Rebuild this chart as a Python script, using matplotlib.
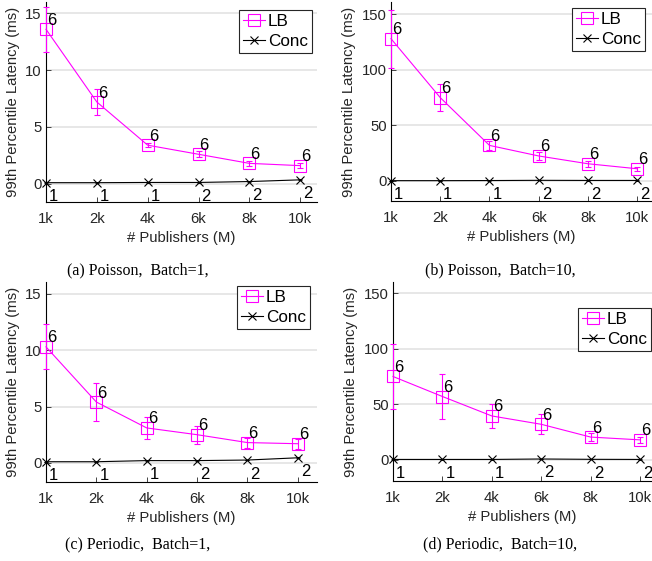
import matplotlib
matplotlib.use("Agg")
import matplotlib.pyplot as plt
import numpy as np

plt.rcParams['font.family'] = ['Liberation Sans', 'DejaVu Sans']

categories = ["1k", "2k", "4k", "6k", "8k", "10k"]

# (a) Poisson, Batch=1
a_lb = [13.6, 7.2, 3.4, 2.6, 1.8, 1.6]
a_lb_err = [2.0, 1.1, 0.2, 0.25, 0.2, 0.2]
a_conc = [0.1, 0.1, 0.12, 0.12, 0.2, 0.35]
a_conc_err = [0.02, 0.02, 0.02, 0.02, 0.03, 0.05]

# (b) Poisson, Batch=10
b_lb = [128, 75, 32, 22.5, 15.5, 11]
b_lb_err = [26, 12, 4, 3.5, 2.5, 2]
b_conc = [0.3, 0.3, 0.4, 0.6, 0.5, 0.5]
b_conc_err = [0.1, 0.1, 0.1, 0.1, 0.1, 0.1]

# (c) Periodic, Batch=1
c_lb = [10.3, 5.4, 3.1, 2.5, 1.8, 1.7]
c_lb_err = [2.0, 1.7, 1.0, 0.8, 0.45, 0.45]
c_conc = [0.1, 0.1, 0.2, 0.2, 0.25, 0.45]
c_conc_err = [0.02, 0.02, 0.03, 0.03, 0.03, 0.05]

# (d) Periodic, Batch=10
d_lb = [75, 57, 39.5, 32, 20.5, 18]
d_lb_err = [29, 20, 11, 9, 3.5, 3]
d_conc = [0.4, 0.4, 0.4, 0.8, 0.5, 0.4]
d_conc_err = [0.1, 0.1, 0.1, 0.1, 0.1, 0.1]

lb_counts = ["6", "6", "6", "6", "6", "6"]
conc_counts = ["1", "1", "1", "2", "2", "2"]

captions = ["(a) Poisson,  Batch=1,", "(b) Poisson,  Batch=10,",
            "(c) Periodic,  Batch=1,", "(d) Periodic,  Batch=10,"]

W, H = 652, 561
fig = plt.figure(figsize=(W / 100, H / 100), dpi=100)

def frac_box(l, r, t, b):
    return [l / W, 1 - b / H, (r - l) / W, (b - t) / H]

panels = [
    dict(box=(46, 317, 2, 202), ylim=(-1.6, 16), xmax=6.33, yt=[0, 5, 10, 15],
         lb=a_lb, lbe=a_lb_err, cc=a_conc, cce=a_conc_err, leg=(312, 10), cap=(138, 270)),
    dict(box=(391, 652, 2, 201), ylim=(-18, 161), xmax=6.30, yt=[0, 50, 100, 150],
         lb=b_lb, lbe=b_lb_err, cc=b_conc, cce=b_conc_err, leg=(645, 8), cap=(500, 270)),
    dict(box=(46, 317, 282, 482), ylim=(-1.7, 16.06), xmax=6.38, yt=[0, 5, 10, 15],
         lb=c_lb, lbe=c_lb_err, cc=c_conc, cce=c_conc_err, leg=(310, 286), cap=(138, 544)),
    dict(box=(393, 652, 282, 481), ylim=(-19, 160), xmax=6.24, yt=[0, 50, 100, 150],
         lb=d_lb, lbe=d_lb_err, cc=d_conc, cce=d_conc_err, leg=(651, 308), cap=(500, 544)),
]

x = np.arange(1, len(categories) + 1)
fs = 10.7
MAG = '#ff00ff'

for i, p in enumerate(panels):
    ax = fig.add_axes(frac_box(*p['box']))
    ax.set_xlim(1, p['xmax'])
    ax.set_ylim(*p['ylim'])
    ax.set_yticks(p['yt'])
    ax.set_xticks(x)
    ax.set_xticklabels(categories)
    ax.yaxis.grid(True, color='#e3e3e3', linewidth=1.2)
    ax.set_axisbelow(True)
    for s in ['top', 'right']:
        ax.spines[s].set_visible(False)
    for s in ['left', 'bottom']:
        ax.spines[s].set_linewidth(0.8)
        ax.spines[s].set_color('black')
    ax.tick_params(direction='in', length=3.5, width=0.6, labelsize=fs, pad=7,
                   colors='#262626')
    ax.tick_params(axis='y', pad=3)

    c1 = ax.errorbar(x, p['lb'], yerr=p['lbe'], color=MAG, lw=0.8, fmt='none',
                     capsize=2, elinewidth=0.8, capthick=0.8, zorder=3)
    c2 = ax.errorbar(x, p['cc'], yerr=p['cce'], color='black', fmt='none',
                     capsize=1.5, elinewidth=0.6, capthick=0.6, zorder=3)
    for c in (c1, c2):
        for art in c.get_children():
            art.set_clip_on(False)
    ax.plot(x, p['lb'], color=MAG, lw=0.8, marker='s', markersize=8,
            markerfacecolor='none', markeredgewidth=0.8, label='LB',
            clip_on=False, zorder=3)
    ax.plot(x, p['cc'], color='black', lw=0.8, marker='x', markersize=6,
            markeredgewidth=0.8, label='Conc', clip_on=False, zorder=3)

    for xi, yi, t in zip(x, p['lb'], lb_counts):
        ax.annotate(t, (xi, yi), xytext=(1, 9), textcoords='offset pixels',
                    ha='left', va='center', fontsize=12, color='black', zorder=4)
    for xi, yi, t in zip(x, p['cc'], conc_counts):
        ax.annotate(t, (xi, yi), xytext=(3, -14), textcoords='offset pixels',
                    ha='left', va='center', fontsize=12, color='black', zorder=4)

    ax.set_ylabel('99th Percentile Latency (ms)', fontsize=fs, color='#262626', labelpad=4)
    ax.set_xlabel('# Publishers (M)', fontsize=fs, color='#262626', labelpad=4)

    lx, ly = p['leg']
    leg = ax.legend(loc='upper right', bbox_to_anchor=(lx / W, 1 - ly / H),
                    bbox_transform=fig.transFigure, borderaxespad=0,
                    fontsize=12.3, fancybox=False, framealpha=1,
                    edgecolor='#262626', handlelength=1.3, handletextpad=0.15,
                    borderpad=0.25, labelspacing=0.25)
    leg.get_frame().set_linewidth(0.8)

    cx, cy = p['cap']
    fig.text(cx / W, 1 - cy / H, captions[i], ha='center', va='center',
             fontsize=11.5, family=['Liberation Serif', 'DejaVu Serif'])

fig.savefig('out.png', dpi=100)
